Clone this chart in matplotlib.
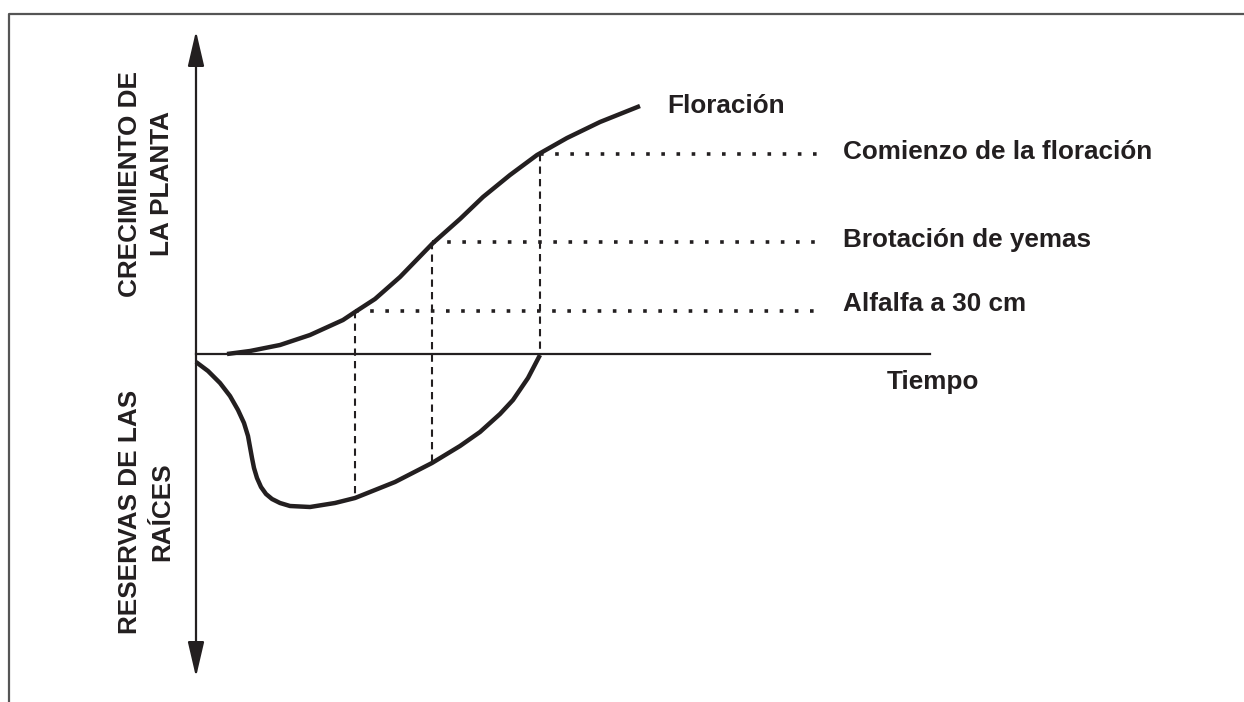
import matplotlib.pyplot as plt

# coordinates of the schematic, in picture pixels (y grows downward)
growth_x = [227, 250, 280, 310, 343, 355, 375, 400, 433, 460, 483, 510, 537, 567, 600, 640]
growth_y = [354, 351, 345, 335, 320, 312, 299, 277, 243, 219, 197, 175, 155, 138, 122, 106]

roots_x = [196, 208, 220, 230, 238, 244, 248, 250, 252, 254, 257, 261, 266, 272, 280, 290, 310, 335, 355, 395, 432, 460, 480, 500, 513, 528, 540]
roots_y = [362, 371, 383, 396, 410, 423, 436, 447, 458, 468, 478, 487, 494, 499, 503, 506, 507, 503, 498, 482, 463, 446, 432, 414, 400, 378, 355]

# stages: x on the time axis, level on the growth curve, level on the roots curve
stage_x = [355, 432, 540]
stage_growth = [311, 242, 154]
stage_roots = [498, 463, 354]
stage_labels = ['Alfalfa a 30 cm', 'Brotación de yemas', 'Comienzo de la floración']
stage_label_y = [304, 240, 152]

ink = '#231f20'
plt.rcParams['font.family'] = ['Liberation Sans', 'DejaVu Sans']

fig = plt.figure(figsize=(12.44, 7.02), dpi=100)
ax = fig.add_axes([0, 0, 1, 1])
ax.set_xlim(0, 1244)
ax.set_ylim(702, 0)
ax.axis('off')

# frame
ax.plot([9, 9, 1244], [702, 14, 14], color='#555555', lw=1.6)

# axes
ax.annotate('', xy=(196, 31), xytext=(196, 677),
            arrowprops=dict(arrowstyle='<|-|>,head_length=1.2,head_width=0.28',
                            color=ink, lw=1.6, mutation_scale=18, shrinkA=0, shrinkB=0))
ax.plot([196, 930], [354, 354], color=ink, lw=1.6)

# guide lines
for sx, gy, ry in zip(stage_x, stage_growth, stage_roots):
    ax.plot([sx, sx], [gy, ry], color=ink, lw=1.5, ls=(0, (3.5, 2.5)))
    ax.plot([sx, 825], [gy, gy], color=ink, lw=2.6, ls=(0, (1, 3.2)), dash_capstyle='butt')

# curves
ax.plot(growth_x, growth_y, color=ink, lw=3.2, solid_capstyle='butt', solid_joinstyle='round')
ax.plot(roots_x, roots_y, color=ink, lw=3.2, solid_capstyle='butt', solid_joinstyle='round')

fs = 18.8
for lab, ly in zip(stage_labels, stage_label_y):
    ax.text(843, ly, lab, fontsize=fs, fontweight='bold', color=ink, va='center', ha='left')
ax.text(667, 106, 'Floración', fontsize=fs, fontweight='bold', color=ink, va='center', ha='left')
ax.text(887, 382, 'Tiempo', fontsize=fs, fontweight='bold', color=ink, va='center', ha='left')

ax.text(146, 184, 'CRECIMIENTO DE\nLA PLANTA', fontsize=fs, fontweight='bold', color=ink,
        rotation=90, va='center', ha='center', multialignment='center', linespacing=1.45)
ax.text(146, 512, 'RESERVAS DE LAS\nRAÍCES', fontsize=fs, fontweight='bold', color=ink,
        rotation=90, va='center', ha='center', multialignment='center', linespacing=1.45)

fig.savefig('out.png', dpi=100)
